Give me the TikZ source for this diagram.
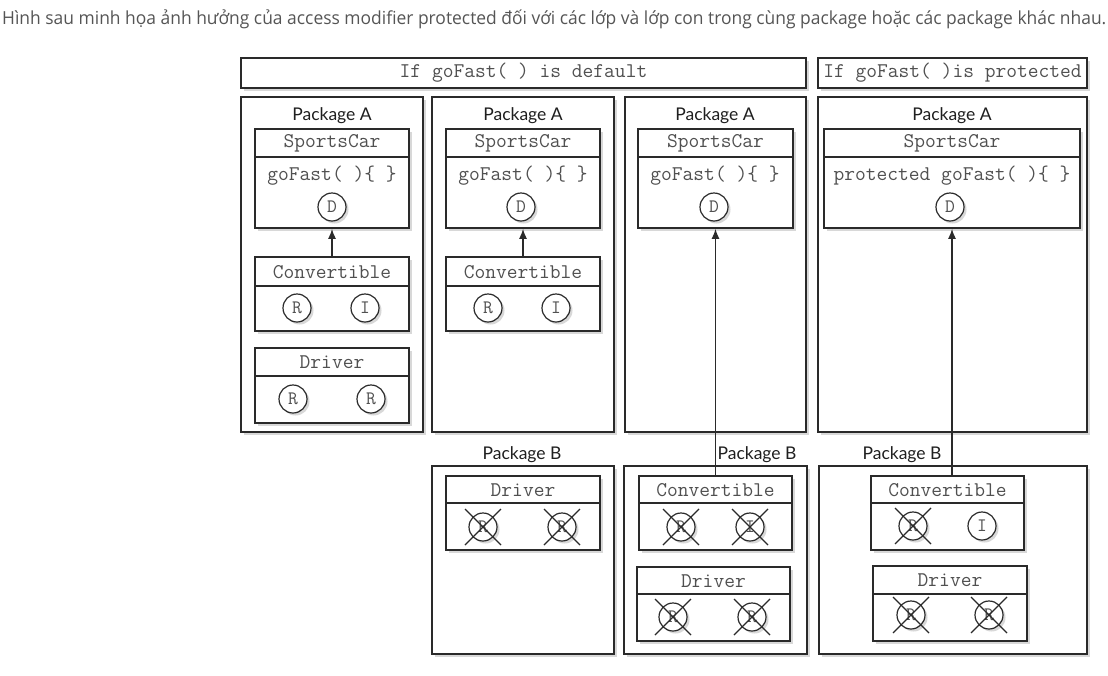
\documentclass[tikz,border=0pt]{standalone}
\usepackage{fontspec}
\setmainfont{Lato}
\newcommand\monof{\ttfamily}
\newfontfamily\capf{Open Sans}
\usetikzlibrary{arrows.meta,shadows}
\definecolor{lncol}{HTML}{2A2A2A}
\definecolor{txcol}{HTML}{505050}
\definecolor{capcol}{HTML}{555555}
\newcommand\ClassBox[7]{%
  \node[clsbox, minimum width={#4-#2}, minimum height={#5-#3}] (#1) at ({(#2+#4)/2},{(#3+#5)/2}) {};
  \draw[ln] (#1.west |- 0,#6) -- (#1.east |- 0,#6);
  \node[title] (#1t) at ({(#2+#4)/2},{(#3+#6)/2+0.5}) {#7};
}
\newcommand\XAttr[4]{%
  \node[attr] (#1) at (#2,#3) {#4};
  \draw[xl] (#1.center) ++(-18,-18) -- ++(36,36) (#1.center) ++(18,-18) -- ++(-36,36);
}
\begin{document}
\begin{tikzpicture}[x=1pt,y=-1pt,
  ln/.style={draw=lncol, line width=1.6pt},
  shad/.style={drop shadow={shadow xshift=2.5pt,shadow yshift=-2.5pt,fill=black!30}},
  pkgbox/.style={rectangle, ln, fill=white, shad, inner sep=0pt},
  clsbox/.style={rectangle, ln, fill=white, shad, inner sep=0pt},
  hdbox/.style={rectangle, ln, fill=white, shad, inner sep=0pt, font=\monof\fontsize{20.9}{22}\selectfont, text=txcol},
  title/.style={inner sep=0pt, font=\monof\fontsize{20.9}{22}\selectfont, text=txcol},
  pkglabel/.style={inner sep=0pt, font=\fontsize{17.5}{20}\selectfont, text=black!88},
  attr/.style={circle, draw=lncol, line width=1.2pt, fill=white, shad, minimum size=28pt, inner sep=0pt, font=\monof\fontsize{19}{20}\selectfont, text=txcol},
  xl/.style={draw=lncol, line width=1.1pt},
  arr/.style={draw=lncol, line width=1.5pt, -{Latex[length=10pt,width=8pt]}}
]
\useasboundingbox (0,0) rectangle (1108,675);

% caption
\node[anchor=base west, inner sep=0pt, text=capcol] (cap) at (2,24) {\resizebox{1104pt}{\height}{\capf\fontsize{18}{20}\selectfont Hình sau minh họa ảnh hưởng của access modifier protected đối với các lớp và lớp con trong cùng package hoặc các package khác nhau.}};

% headers
\node[hdbox, minimum width=565, minimum height=30] (hd1) at (523.5,73) {If goFast( ) is default};
\node[hdbox, minimum width=269, minimum height=30] (hd2) at (952.5,73) {If goFast( )is protected};

% package A boxes
\node[pkgbox, minimum width=182, minimum height=335] (pa1) at (332,264.5) {};
\node[pkgbox, minimum width=182, minimum height=335] (pa2) at (523,264.5) {};
\node[pkgbox, minimum width=181, minimum height=335] (pa3) at (715.5,264.5) {};
\node[pkgbox, minimum width=269, minimum height=335] (pa4) at (952.5,264.5) {};
\node[pkglabel] (pa1l) at (332,116) {Package A};
\node[pkglabel] (pa2l) at (523,116) {Package A};
\node[pkglabel] (pa3l) at (715,116) {Package A};
\node[pkglabel] (pa4l) at (952,116) {Package A};

% package B boxes
\node[pkgbox, minimum width=182, minimum height=188] (pb2) at (523,560) {};
\node[pkgbox, minimum width=183, minimum height=188] (pb3) at (715.5,560) {};
\node[pkgbox, minimum width=268, minimum height=188] (pb4) at (953,560) {};
\node[pkglabel] (pb2l) at (522,455) {Package B};
\node[pkglabel] (pb3l) at (757,455) {Package B};
\node[pkglabel] (pb4l) at (902,455) {Package B};

% SportsCar
\ClassBox{sc1}{255}{129}{409}{228}{157}{SportsCar}
\node[title] (sc1m) at (332,176) {goFast( )\{ \}};
\node[attr] (sc1d) at (332,207) {D};
\ClassBox{sc2}{446}{129}{600}{228}{157}{SportsCar}
\node[title] (sc2m) at (523,176) {goFast( )\{ \}};
\node[attr] (sc2d) at (521,207) {D};
\ClassBox{sc3}{638}{129}{793}{228}{157}{SportsCar}
\node[title] (sc3m) at (715,176) {goFast( )\{ \}};
\node[attr] (sc3d) at (714,207) {D};
\ClassBox{sc4}{824}{129}{1080}{228}{157}{SportsCar}
\node[title] (sc4m) at (952,176) {protected goFast( )\{ \}};
\node[attr] (sc4d) at (950,207) {D};

% Package A subclasses
\ClassBox{cv1}{255}{257}{409}{331}{286}{Convertible}
\node[attr] (cv1r) at (297,308) {R};
\node[attr] (cv1i) at (365,308) {I};
\ClassBox{dr1}{255}{348}{409}{423}{376}{Driver}
\node[attr] (dr1r) at (293,399) {R};
\node[attr] (dr1s) at (371,399) {R};
\ClassBox{cv2}{446}{257}{600}{331}{286}{Convertible}
\node[attr] (cv2r) at (488,308) {R};
\node[attr] (cv2i) at (556,308) {I};

% Package B classes
\ClassBox{dr2}{446}{476}{600}{550}{503}{Driver}
\XAttr{dr2r}{483}{527}{R}
\XAttr{dr2s}{562}{527}{R}
\ClassBox{cv3}{639}{476}{792}{550}{503}{Convertible}
\XAttr{cv3r}{681}{527}{R}
\XAttr{cv3i}{750}{527}{I}
\ClassBox{dr3}{637}{567}{790}{641}{594}{Driver}
\XAttr{dr3r}{673}{617}{R}
\XAttr{dr3s}{752}{617}{R}
\ClassBox{cv4}{871}{476}{1024}{550}{503}{Convertible}
\XAttr{cv4r}{913}{526}{R}
\node[attr] (cv4i) at (982,526) {I};
\ClassBox{dr4}{873}{566}{1027}{641}{594}{Driver}
\XAttr{dr4r}{911}{615}{R}
\XAttr{dr4s}{989}{615}{R}

% inheritance connectors
\draw[arr] (cv1.north) -- (sc1.south);
\draw[arr] (cv2.north) -- (sc2.south);
\draw[arr] (cv3.north) -- (sc3.south);
\draw[arr] (sc4.south |- cv4.north) -- (sc4.south);
\end{tikzpicture}
\end{document}
